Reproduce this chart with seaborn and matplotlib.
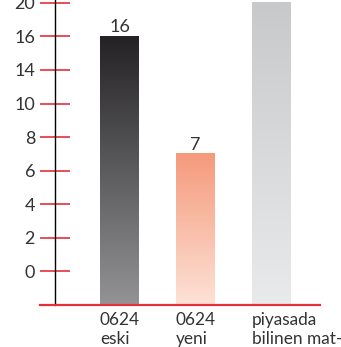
import numpy as np
import seaborn as sns
import matplotlib.pyplot as plt

# data
categories = ["0624\neski", "0624\nyeni", "piyasada\nbilinen mat-"]
values = [16, 7, 20]
value_labels = ["16", "7", ""]
tick_values = [0, 2, 4, 6, 8, 10, 14, 16, 20]

# gradient colours for each bar (top, bottom)
grads = [("#242224", "#939396"), ("#f59a7c", "#fde2d6"), ("#c8c9cb", "#e9eaeb")]
red = "#e5303a"
txt = "#333333"

sns.set_theme(style="white")
plt.rcParams["font.family"] = ["Lato", "DejaVu Sans"]

# the axis is drawn with evenly spaced ticks, one step below 0 is the baseline
scale_vals = [-4, -2] + tick_values + [24]
scale_pos = np.arange(len(scale_vals)) - 1.0


def fwd(v):
    return np.interp(v, scale_vals, scale_pos)


def inv(p):
    return np.interp(p, scale_pos, scale_vals)


fig = plt.figure(figsize=(3.41, 3.47), dpi=100)
ax = fig.add_axes([40 / 341, 42 / 347, 280 / 341, 305 / 347])

bw = 39 / 76
sns.barplot(x=categories, y=values, ax=ax, width=bw, color="grey")
ax.set_yscale("function", functions=(fwd, inv))

# bars start at the baseline (-2 on the value scale)
for p, v in zip(ax.patches, values):
    p.set_y(-2)
    p.set_height(v + 2)

ax.set_xlim((40 - 119.5) / 76, (320 - 119.5) / 76)
ax.set_ylim(-2, 20.34)
ax.set_autoscale_on(False)

# gradient fill
to_axes = ax.transData + ax.transAxes.inverted()
for p, (ctop, cbot) in zip(ax.patches, grads):
    x0, y0 = p.get_x(), p.get_y()
    x1, y1 = x0 + p.get_width(), y0 + p.get_height()
    (ax0, ay0), (ax1, ay1) = to_axes.transform([(x0, y0), (x1, y1)])
    t = np.linspace(0, 1, 256)[:, None, None]
    a = np.array(plt.matplotlib.colors.to_rgb(ctop))
    b = np.array(plt.matplotlib.colors.to_rgb(cbot))
    img = a * (1 - t) + b * t
    ax.imshow(img, extent=[ax0, ax1, ay0, ay1], transform=ax.transAxes,
              aspect="auto", origin="upper", zorder=1)
    p.set_facecolor("none")
    p.set_edgecolor("none")

ax.bar_label(ax.containers[0], labels=value_labels, padding=1,
             fontsize=13, color=txt)

# spines
ax.spines["top"].set_visible(False)
ax.spines["right"].set_visible(False)
ax.spines["left"].set_position(("data", (55 - 119.5) / 76))
ax.spines["left"].set_color("black")
ax.spines["left"].set_linewidth(1.0)
ax.spines["left"].set_zorder(3)
ax.spines["bottom"].set_color(red)
ax.spines["bottom"].set_linewidth(1.6)
ax.spines["bottom"].set_zorder(3)

ax.set_yticks(tick_values)
ax.set_yticklabels([str(v) for v in tick_values])
ax.yaxis.set_minor_locator(plt.NullLocator())
ax.tick_params(axis="y", direction="inout", length=21.6, width=1.2,
               color=red, pad=3.6, labelsize=13, labelcolor=txt, left=True)

ax.set_xticks([i - bw / 2 for i in range(len(categories))])
ax.set_xticklabels(categories, ha="left", linespacing=1.25)
ax.tick_params(axis="x", length=0, pad=5, labelsize=12.4, labelcolor=txt)
ax.set_xlabel("")
ax.set_ylabel("")

fig.savefig("out.png", dpi=100)
